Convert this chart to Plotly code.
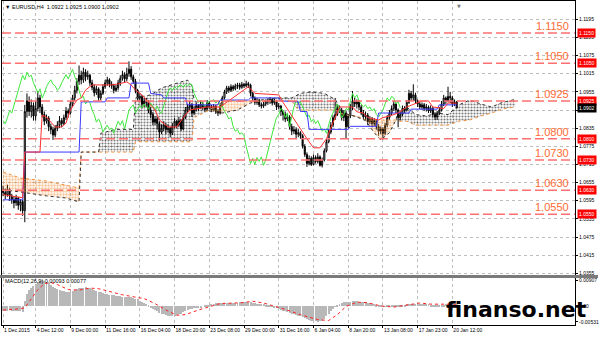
import plotly.graph_objects as go

# ---------------- data ----------------
opens = [1.0630, 1.0622, 1.0615, 1.0632, 1.0610, 1.0598, 1.0588, 1.0604, 1.0580, 1.0592,
         1.0562,
         1.0890, 1.0925, 1.0890, 1.0910, 1.0875, 1.0900, 1.0935,
         1.0905, 1.0880, 1.0858, 1.0868, 1.0840, 1.0830, 1.0812,
         1.0835, 1.0845, 1.0860, 1.0850, 1.0870, 1.0892, 1.0885,
         1.0915, 1.0935, 1.0960, 1.0990, 1.1010, 1.0995, 1.1020,
         1.1005, 1.1010, 1.0985, 1.0970, 1.0952, 1.0965, 1.0935,
         1.0950, 1.0972, 1.0985, 1.0995, 1.0980, 1.0975, 1.0960,
         1.0968, 1.0985, 1.1000, 1.1012, 1.0998, 1.1015, 1.1030,
         1.1005, 1.0990, 1.0960, 1.0935, 1.0940, 1.0915, 1.0925,
         1.0920, 1.0895, 1.0880, 1.0855, 1.0865, 1.0850, 1.0822,
         1.0835, 1.0845, 1.0830, 1.0835, 1.0818, 1.0840, 1.0858,
         1.0845, 1.0860, 1.0832, 1.0870, 1.0895, 1.0905, 1.0912,
         1.0885, 1.0898, 1.0910, 1.0902, 1.0915, 1.0905, 1.0898,
         1.0918, 1.0905, 1.0895, 1.0908, 1.0890, 1.0885, 1.0910,
         1.0935, 1.0955, 1.0968, 1.0960, 1.0972, 1.0965, 1.0975,
         1.0978, 1.0970, 1.0980, 1.0975, 1.0982, 1.0978, 1.0950,
         1.0935, 1.0920, 1.0928, 1.0912, 1.0908, 1.0915, 1.0925,
         1.0922, 1.0930, 1.0918, 1.0925, 1.0905, 1.0908, 1.0890,
         1.0880, 1.0865, 1.0872, 1.0840, 1.0825, 1.0830, 1.0815,
         1.0820, 1.0810, 1.0775, 1.0748, 1.0718, 1.0735, 1.0715,
         1.0738, 1.0725, 1.0740, 1.0712, 1.0730, 1.0760, 1.0790,
         1.0822, 1.0845, 1.0870, 1.0880, 1.0900, 1.0895, 1.0870,
         1.0885, 1.0840, 1.0875, 1.0905, 1.0925, 1.0915, 1.0922,
         1.0905, 1.0885, 1.0872, 1.0878, 1.0856, 1.0865, 1.0850,
         1.0860, 1.0840, 1.0825, 1.0832, 1.0818, 1.0845, 1.0870,
         1.0885, 1.0900, 1.0915, 1.0895, 1.0870, 1.0880, 1.0900,
         1.0895, 1.0920, 1.0950, 1.0935, 1.0945, 1.0925, 1.0915,
         1.0905, 1.0912, 1.0900, 1.0905, 1.0892, 1.0900, 1.0880,
         1.0872, 1.0885, 1.0895, 1.0915, 1.0935, 1.0925, 1.0940,
         1.0935, 1.0915, 1.0922]

highs = [1.0645, 1.0635, 1.0648, 1.0638, 1.0618, 1.0610, 1.0615, 1.0608, 1.0600, 1.0598,
         1.0912,
         1.0950, 1.0940, 1.0930, 1.0920, 1.0925, 1.0958, 1.0945,
         1.0915, 1.0890, 1.0880, 1.0875, 1.0850, 1.0840, 1.0845,
         1.0858, 1.0875, 1.0868, 1.0880, 1.0905, 1.0900, 1.0925,
         1.0945, 1.0975, 1.1000, 1.1042, 1.1025, 1.1035, 1.1030,
         1.1025, 1.1015, 1.0995, 1.0980, 1.0975, 1.0970, 1.0960,
         1.0980, 1.0995, 1.1005, 1.1000, 1.0990, 1.0982, 1.0978,
         1.0995, 1.1010, 1.1025, 1.1020, 1.1035, 1.1056, 1.1040,
         1.1012, 1.0998, 1.0965, 1.0950, 1.0945, 1.0935, 1.0935,
         1.0928, 1.0905, 1.0888, 1.0875, 1.0872, 1.0858, 1.0848,
         1.0858, 1.0852, 1.0848, 1.0840, 1.0852, 1.0868, 1.0862,
         1.0872, 1.0865, 1.0880, 1.0905, 1.0915, 1.0925, 1.0918,
         1.0908, 1.0920, 1.0915, 1.0925, 1.0922, 1.0912, 1.0928,
         1.0925, 1.0912, 1.0915, 1.0912, 1.0898, 1.0918, 1.0942,
         1.0962, 1.0975, 1.0975, 1.0980, 1.0978, 1.0982, 1.0985,
         1.0985, 1.0988, 1.0985, 1.0992, 1.0988, 1.0982, 1.0955,
         1.0940, 1.0935, 1.0932, 1.0920, 1.0922, 1.0930, 1.0932,
         1.0938, 1.0935, 1.0932, 1.0928, 1.0918, 1.0912, 1.0895,
         1.0890, 1.0885, 1.0878, 1.0850, 1.0842, 1.0838, 1.0832,
         1.0825, 1.0815, 1.0782, 1.0755, 1.0745, 1.0742, 1.0748,
         1.0745, 1.0752, 1.0745, 1.0738, 1.0768, 1.0798, 1.0830,
         1.0855, 1.0878, 1.0935, 1.0912, 1.0908, 1.0902, 1.0895,
         1.0892, 1.0882, 1.0915, 1.0958, 1.0935, 1.0930, 1.0928,
         1.0912, 1.0895, 1.0890, 1.0885, 1.0875, 1.0872, 1.0868,
         1.0865, 1.0848, 1.0840, 1.0838, 1.0852, 1.0878, 1.0895,
         1.0910, 1.0925, 1.0920, 1.0900, 1.0890, 1.0910, 1.0908,
         1.0928, 1.0962, 1.0958, 1.0980, 1.0952, 1.0930, 1.0922,
         1.0920, 1.0918, 1.0915, 1.0910, 1.0910, 1.0905, 1.0888,
         1.0892, 1.0905, 1.0925, 1.0945, 1.0940, 1.0972, 1.0955,
         1.0942, 1.0930, 1.0925]

lows = [1.0610, 1.0600, 1.0608, 1.0595, 1.0585, 1.0570, 1.0578, 1.0565, 1.0560, 1.0545,
        1.0524,
        1.0870, 1.0875, 1.0870, 1.0860, 1.0860, 1.0890, 1.0885,
        1.0870, 1.0845, 1.0850, 1.0825, 1.0815, 1.0796, 1.0805,
        1.0825, 1.0835, 1.0838, 1.0845, 1.0862, 1.0870, 1.0880,
        1.0905, 1.0925, 1.0950, 1.0978, 1.0980, 1.0985, 1.0990,
        1.0995, 1.0975, 1.0960, 1.0940, 1.0945, 1.0925, 1.0928,
        1.0945, 1.0965, 1.0975, 1.0970, 1.0965, 1.0950, 1.0955,
        1.0960, 1.0975, 1.0992, 1.0985, 1.0990, 1.1005, 1.0995,
        1.0982, 1.0950, 1.0925, 1.0920, 1.0900, 1.0905, 1.0905,
        1.0885, 1.0868, 1.0845, 1.0845, 1.0830, 1.0795, 1.0815,
        1.0825, 1.0815, 1.0820, 1.0805, 1.0812, 1.0835, 1.0835,
        1.0838, 1.0825, 1.0828, 1.0865, 1.0885, 1.0895, 1.0872,
        1.0878, 1.0890, 1.0892, 1.0898, 1.0895, 1.0888, 1.0892,
        1.0898, 1.0888, 1.0890, 1.0882, 1.0875, 1.0880, 1.0905,
        1.0930, 1.0948, 1.0952, 1.0955, 1.0958, 1.0960, 1.0965,
        1.0962, 1.0965, 1.0968, 1.0970, 1.0968, 1.0940, 1.0925,
        1.0912, 1.0912, 1.0905, 1.0900, 1.0902, 1.0908, 1.0912,
        1.0915, 1.0910, 1.0912, 1.0895, 1.0898, 1.0875, 1.0860,
        1.0855, 1.0858, 1.0830, 1.0812, 1.0815, 1.0800, 1.0805,
        1.0800, 1.0768, 1.0740, 1.0707, 1.0712, 1.0710, 1.0712,
        1.0718, 1.0718, 1.0708, 1.0705, 1.0725, 1.0755, 1.0785,
        1.0815, 1.0838, 1.0862, 1.0875, 1.0885, 1.0860, 1.0858,
        1.0800, 1.0835, 1.0868, 1.0895, 1.0905, 1.0900, 1.0895,
        1.0878, 1.0865, 1.0862, 1.0845, 1.0848, 1.0838, 1.0842,
        1.0830, 1.0810, 1.0815, 1.0797, 1.0812, 1.0838, 1.0862,
        1.0878, 1.0892, 1.0885, 1.0838, 1.0860, 1.0875, 1.0885,
        1.0890, 1.0915, 1.0925, 1.0925, 1.0915, 1.0905, 1.0898,
        1.0895, 1.0892, 1.0890, 1.0885, 1.0885, 1.0870, 1.0862,
        1.0862, 1.0878, 1.0890, 1.0908, 1.0915, 1.0920, 1.0918,
        1.0905, 1.0908, 1.0900]

closes = [1.0622, 1.0615, 1.0632, 1.0610, 1.0598, 1.0588, 1.0604, 1.0580, 1.0592, 1.0562,
          1.0890,
          1.0925, 1.0890, 1.0910, 1.0875, 1.0900, 1.0935, 1.0905,
          1.0880, 1.0858, 1.0868, 1.0840, 1.0830, 1.0812, 1.0835,
          1.0845, 1.0860, 1.0850, 1.0870, 1.0892, 1.0885, 1.0915,
          1.0935, 1.0960, 1.0990, 1.1010, 1.0995, 1.1020, 1.1005,
          1.1010, 1.0985, 1.0970, 1.0952, 1.0965, 1.0935, 1.0950,
          1.0972, 1.0985, 1.0995, 1.0980, 1.0975, 1.0960, 1.0968,
          1.0985, 1.1000, 1.1012, 1.0998, 1.1015, 1.1030, 1.1005,
          1.0990, 1.0960, 1.0935, 1.0940, 1.0915, 1.0925, 1.0920,
          1.0895, 1.0880, 1.0855, 1.0865, 1.0850, 1.0822, 1.0835,
          1.0845, 1.0830, 1.0835, 1.0818, 1.0840, 1.0858, 1.0845,
          1.0860, 1.0832, 1.0870, 1.0895, 1.0905, 1.0912, 1.0885,
          1.0898, 1.0910, 1.0902, 1.0915, 1.0905, 1.0898, 1.0918,
          1.0905, 1.0895, 1.0908, 1.0890, 1.0885, 1.0910, 1.0935,
          1.0955, 1.0968, 1.0960, 1.0972, 1.0965, 1.0975, 1.0978,
          1.0970, 1.0980, 1.0975, 1.0982, 1.0978, 1.0950, 1.0935,
          1.0920, 1.0928, 1.0912, 1.0908, 1.0915, 1.0925, 1.0922,
          1.0930, 1.0918, 1.0925, 1.0905, 1.0908, 1.0890, 1.0880,
          1.0865, 1.0872, 1.0840, 1.0825, 1.0830, 1.0815, 1.0820,
          1.0810, 1.0775, 1.0748, 1.0718, 1.0735, 1.0715, 1.0738,
          1.0725, 1.0740, 1.0712, 1.0730, 1.0760, 1.0790, 1.0822,
          1.0845, 1.0870, 1.0880, 1.0900, 1.0895, 1.0870, 1.0885,
          1.0840, 1.0875, 1.0905, 1.0925, 1.0915, 1.0922, 1.0905,
          1.0885, 1.0872, 1.0878, 1.0856, 1.0865, 1.0850, 1.0860,
          1.0840, 1.0825, 1.0832, 1.0818, 1.0845, 1.0870, 1.0885,
          1.0900, 1.0915, 1.0895, 1.0870, 1.0880, 1.0900, 1.0895,
          1.0920, 1.0950, 1.0935, 1.0945, 1.0925, 1.0915, 1.0905,
          1.0912, 1.0900, 1.0905, 1.0892, 1.0900, 1.0880, 1.0872,
          1.0885, 1.0895, 1.0915, 1.0935, 1.0925, 1.0940, 1.0935,
          1.0915, 1.0922, 1.0902]

# Ichimoku Tenkan-sen (red) and Kijun-sen (blue): vertices (bar index, price)
tenkan_x = [0, 9, 10, 17, 18, 20, 22, 24, 27, 29, 31, 34, 36, 38, 41, 50, 53, 57, 59, 61,
            64, 66, 68, 70, 72, 76, 80, 83, 86, 90, 94, 100, 104, 110, 113, 116, 127, 129,
            133, 137, 140, 143, 146, 149, 152, 155, 161, 163, 166, 168, 173, 175, 178, 182,
            186, 190, 193, 196, 198, 203, 205, 209]
tenkan_y = [1.0615, 1.0605, 1.0756, 1.0756, 1.0878, 1.0872, 1.0855, 1.0839, 1.0839, 1.0852,
            1.0895, 1.0928, 1.0935, 1.0961, 1.0978, 1.0978, 1.0981, 1.0988, 1.0978, 1.0961,
            1.0945, 1.0928, 1.0912, 1.0895, 1.0862, 1.0839, 1.0839, 1.0870, 1.0895, 1.0900,
            1.0905, 1.0905, 1.0925, 1.0958, 1.0972, 1.0950, 1.0945, 1.0920, 1.0875, 1.0830,
            1.0800, 1.0770, 1.0770, 1.0800, 1.0850, 1.0905, 1.0905, 1.0889, 1.0885, 1.0870,
            1.0862, 1.0870, 1.0875, 1.0885, 1.0905, 1.0915, 1.0925, 1.0925, 1.0905, 1.0900,
            1.0918, 1.0918]

kijun_x = [0, 9, 10, 35, 36, 47, 48, 58, 59, 67, 68, 73, 74, 84, 85, 99, 100, 113, 114, 127,
           128, 136, 137, 140, 141, 159, 160, 172, 173, 187, 188, 200, 201, 209]
kijun_y = [1.0598, 1.0598, 1.0756, 1.0756, 1.0922, 1.0922, 1.0935, 1.0935, 1.0984, 1.0984,
           1.0950, 1.0945, 1.0935, 1.0935, 1.0912, 1.0912, 1.0928, 1.0928, 1.0935, 1.0935,
           1.0925, 1.0922, 1.0890, 1.0890, 1.0831, 1.0831, 1.0841, 1.0841, 1.0885, 1.0885,
           1.0898, 1.0898, 1.0912, 1.0912]

# Senkou spans A and B (cloud, already shifted 26 bars forward)
cloud_x = [0, 8, 20, 29, 35, 36, 44, 45, 52, 60, 61, 68, 73, 77, 82, 85, 87, 88, 92, 95,
           101, 108, 114, 120, 127, 133, 136, 137, 142, 148, 153, 157, 163, 167, 171, 174,
           178, 181, 182, 186, 190, 195, 200, 205, 210, 215, 220, 225, 230, 236]
span_a = [1.0631, 1.0624, 1.0611, 1.0604, 1.0591, 1.0756, 1.0756, 1.0818, 1.0831, 1.0831,
          1.0935, 1.0945, 1.0968, 1.0978, 1.0988, 1.0994, 1.0975, 1.0930, 1.0900, 1.0892,
          1.0885, 1.0895, 1.0918, 1.0930, 1.0935, 1.0935, 1.0948, 1.0950, 1.0955, 1.0950,
          1.0930, 1.0885, 1.0872, 1.0860, 1.0820, 1.0796, 1.0820, 1.0862, 1.0890, 1.0905,
          1.0880, 1.0875, 1.0885, 1.0880, 1.0912, 1.0928, 1.0915, 1.0905, 1.0920, 1.0930]
span_b = [1.0690, 1.0670, 1.0660, 1.0647, 1.0637, 1.0756, 1.0756, 1.0756, 1.0756, 1.0756,
          1.0790, 1.0790, 1.0790, 1.0790, 1.0790, 1.0790, 1.0790, 1.0870, 1.0885, 1.0895,
          1.0925, 1.0925, 1.0925, 1.0925, 1.0925, 1.0925, 1.0895, 1.0895, 1.0895, 1.0895,
          1.0895, 1.0880, 1.0875, 1.0862, 1.0862, 1.0862, 1.0862, 1.0862, 1.0858, 1.0858,
          1.0845, 1.0845, 1.0845, 1.0845, 1.0858, 1.0862, 1.0875, 1.0885, 1.0898, 1.0905]
chikou_shift = 26

# MACD(12,26,9): main (histogram, one value per bar) and signal (vertices)
macd_main = [-0.0016, -0.0015, -0.0014, -0.0013, -0.0014, -0.0015, -0.0015, -0.0016, -0.0016, -0.0019,
             0.0018, 0.0042, 0.0056, 0.0065, 0.0071, 0.0077, 0.0083, 0.0088, 0.0091, 0.0089,
             0.0085, 0.0080, 0.0074, 0.0068, 0.0063, 0.0059, 0.0056, 0.0054, 0.0052, 0.0051,
             0.0050, 0.0051, 0.0053, 0.0056, 0.0059, 0.0062, 0.0064, 0.0065, 0.0066, 0.0065,
             0.0063, 0.0060, 0.0057, 0.0054, 0.0051, 0.0048, 0.0046, 0.0044, 0.0042, 0.0041,
             0.0039, 0.0038, 0.0037, 0.0036, 0.0035, 0.0034, 0.0034, 0.0033, 0.0033, 0.0032,
             0.0030, 0.0027, 0.0024, 0.0020, 0.0016, 0.0012, 0.0008, 0.0003, -0.0002, -0.0007,
             -0.0012, -0.0017, -0.0021, -0.0024, -0.0027, -0.0029, -0.0031, -0.0032, -0.0033, -0.0032,
             -0.0030, -0.0027, -0.0024, -0.0020, -0.0016, -0.0013, -0.0010, -0.0008, -0.0006, -0.0004,
             -0.0003, -0.0002, 0.0000, 0.0002, 0.0004, 0.0006, 0.0008, 0.0010, 0.0011, 0.0012,
             0.0012, 0.0013, 0.0013, 0.0013, 0.0012, 0.0012, 0.0012, 0.0013, 0.0013, 0.0014,
             0.0014, 0.0015, 0.0016, 0.0015, 0.0014, 0.0012, 0.0011, 0.0010, 0.0009, 0.0008,
             0.0007, 0.0006, 0.0005, 0.0003, 0.0001, -0.0002, -0.0005, -0.0008, -0.0011, -0.0014,
             -0.0017, -0.0020, -0.0022, -0.0024, -0.0026, -0.0028, -0.0031, -0.0034, -0.0037, -0.0040,
             -0.0043, -0.0046, -0.0048, -0.0050, -0.0051, -0.0052, -0.0051, -0.0048, -0.0042, -0.0034,
             -0.0025, -0.0016, -0.0008, -0.0001, 0.0005, 0.0009, 0.0012, 0.0014, 0.0015, 0.0016,
             0.0017, 0.0018, 0.0018, 0.0018, 0.0017, 0.0016, 0.0015, 0.0014, 0.0013, 0.0011,
             0.0009, 0.0007, 0.0005, 0.0003, 0.0002, 0.0001, 0.0001, 0.0002, 0.0003, 0.0004,
             0.0005, 0.0005, 0.0004, 0.0004, 0.0005, 0.0006, 0.0007, 0.0008, 0.0009, 0.0010,
             0.0010, 0.0010, 0.0009, 0.0009, 0.0008, 0.0008, 0.0007, 0.0006, 0.0005, 0.0004,
             0.0004, 0.0004, 0.0005, 0.0006, 0.0007, 0.0008, 0.0008, 0.0008, 0.0009, 0.0009]
signal_x = [0, 5, 10, 13, 16, 19, 22, 25, 30, 35, 40, 44, 50, 55, 61, 65, 70, 75, 80, 84, 90,
            95, 100, 110, 115, 120, 125, 130, 137, 145, 150, 154, 158, 163, 168, 174, 180, 186,
            192, 197, 203, 209]
signal_y = [-0.0012, -0.0010, -0.0005, 0.0025, 0.0058, 0.0078, 0.0082, 0.0075, 0.0058, 0.0056,
            0.0063, 0.0061, 0.0050, 0.0040, 0.0032, 0.0027, 0.0010, -0.0012, -0.0030, -0.0028,
            -0.0012, 0.0000, 0.0010, 0.0013, 0.0018, 0.0012, 0.0002, -0.0010, -0.0028, -0.0045,
            -0.0048, -0.0028, 0.0000, 0.0015, 0.0013, 0.0002, -0.0002, 0.0004, 0.0012, 0.0008,
            0.0008, 0.0008]

level_values = [1.1150, 1.1050, 1.0925, 1.0800, 1.0730, 1.0630, 1.0550]
level_labels = ["1.1150", "1.1050", "1.0925", "1.0800", "1.0730", "1.0630", "1.0550"]
price_ticks = [1.1195, 1.1135, 1.1075, 1.1015, 1.0955, 1.0895, 1.0835, 1.0775,
               1.0715, 1.0655, 1.0595, 1.0535, 1.0475, 1.0415, 1.0355]
current_price = 1.0902
macd_ticks = [0.00907, 0.0, -0.00531]
macd_tick_labels = ["0.00907", "0.00", "-0.00531"]
time_tick_bars = [0, 15, 31, 47, 63, 79, 95, 111, 127, 143, 159, 175, 191, 207]
time_tick_labels = ["1 Dec 2015", "4 Dec 12:00", "9 Dec 00:00", "11 Dec 16:00",
                    "16 Dec 04:00", "18 Dec 20:00", "23 Dec 08:00", "29 Dec 00:00",
                    "31 Dec 16:00", "6 Jan 04:00", "8 Jan 20:00", "13 Jan 08:00",
                    "17 Jan 23:00", "20 Jan 12:00"]
header_text = "\u25BC EURUSD,H4  1.0922 1.0925 1.0900 1.0902"
macd_text = "MACD(12,26,9) 0.00093 0.00077"
watermark = "finanso.net"

# ---------------- figure ----------------
FONT = "Liberation Sans"
bars = list(range(len(closes)))
fig = go.Figure()

# cloud hatch: black where span A is above, orange where span B is above
runs = []
for i in range(len(cloud_x) - 1):
    above = (span_a[i] + span_a[i + 1]) >= (span_b[i] + span_b[i + 1])
    if runs and runs[-1][0] == above:
        runs[-1][1].append(i + 1)
    else:
        runs.append([above, [i, i + 1]])
for above, idx in runs:
    xs = [cloud_x[j] for j in idx]
    up = [max(span_a[j], span_b[j]) for j in idx]
    lo = [min(span_a[j], span_b[j]) for j in idx]
    col = "#000000" if above else "#F0903A"
    fig.add_trace(go.Scatter(
        x=xs + xs[::-1], y=up + lo[::-1], mode="none", fill="toself",
        fillcolor="rgba(0,0,0,0)",
        fillpattern=dict(shape=".", fgcolor=col, bgcolor="rgba(0,0,0,0)", size=3,
                         solidity=0.4 if above else 0.5),
        hoverinfo="skip", showlegend=False, xaxis="x", yaxis="y"))

fig.add_trace(go.Scatter(x=cloud_x, y=span_b, mode="lines",
                         line=dict(color="#F0903A", width=1, dash="dot"),
                         showlegend=False, xaxis="x", yaxis="y"))
fig.add_trace(go.Scatter(x=cloud_x, y=span_a, mode="lines",
                         line=dict(color="#333333", width=1, dash="dot"),
                         showlegend=False, xaxis="x", yaxis="y"))

fig.add_trace(go.Candlestick(
    x=bars, open=opens, high=highs, low=lows, close=closes,
    increasing=dict(line=dict(color="#000000", width=1), fillcolor="#FFFFFF"),
    decreasing=dict(line=dict(color="#000000", width=1), fillcolor="#000000"),
    whiskerwidth=0, showlegend=False, xaxis="x", yaxis="y"))

fig.add_trace(go.Scatter(x=[b - chikou_shift for b in bars[chikou_shift:]],
                         y=closes[chikou_shift:], mode="lines",
                         line=dict(color="#3EE83E", width=1), showlegend=False,
                         xaxis="x", yaxis="y"))
fig.add_trace(go.Scatter(x=kijun_x, y=kijun_y, mode="lines",
                         line=dict(color="#3A3AFF", width=1), showlegend=False,
                         xaxis="x", yaxis="y"))
fig.add_trace(go.Scatter(x=tenkan_x, y=tenkan_y, mode="lines",
                         line=dict(color="#FF3030", width=1), showlegend=False,
                         xaxis="x", yaxis="y"))

# MACD panel
fig.add_trace(go.Bar(x=bars, y=macd_main, width=0.45,
                     marker=dict(color="#B8B8B8", line=dict(width=0)),
                     showlegend=False, xaxis="x2", yaxis="y2"))
fig.add_trace(go.Scatter(x=signal_x, y=signal_y, mode="lines",
                         line=dict(color="#FF2020", width=1, dash="dot"),
                         showlegend=False, xaxis="x2", yaxis="y2"))

# plot geometry (px): plot area x 2..575, y 1..325
PW, PH = 573.0, 324.0
def py(ypx):
    return (325.0 - ypx) / PH
def px(xpx):
    return (xpx - 2.0) / PW

shapes = []
annotations = []
for v, lab in zip(level_values, level_labels):
    shapes.append(dict(type="line", xref="paper", yref="y", x0=0, x1=1, y0=v, y1=v,
                       line=dict(color="#FF6F6F", width=1.5, dash="9px,4px"), layer="above"))
    annotations.append(dict(xref="paper", yref="y", x=px(571), y=v, xanchor="right",
                            yanchor="middle", yshift=7, text=lab, showarrow=False,
                            font=dict(family=FONT, size=11, color="#FF6A33")))
    annotations.append(dict(xref="paper", yref="y", x=1, y=v, xanchor="left", yanchor="middle",
                            xshift=2, text=lab, showarrow=False, bgcolor="#FF0000",
                            borderpad=1, font=dict(family=FONT, size=5, color="#FFFFFF")))
annotations.append(dict(xref="paper", yref="y", x=1, y=current_price, xanchor="left",
                        yanchor="middle", xshift=2, text=f"{current_price:.4f}",
                        showarrow=False, bgcolor="#000000", borderpad=1,
                        font=dict(family=FONT, size=5, color="#FFFFFF")))
annotations.append(dict(xref="paper", yref="paper", x=px(3), y=py(7), xanchor="left",
                        yanchor="middle", text=header_text, showarrow=False,
                        font=dict(family=FONT, size=5.5, color="#000000")))
annotations.append(dict(xref="paper", yref="paper", x=px(3), y=py(281), xanchor="left",
                        yanchor="middle", text=macd_text, showarrow=False,
                        font=dict(family=FONT, size=5.5, color="#000000")))
annotations.append(dict(xref="paper", yref="paper", x=px(459), y=py(1), xanchor="center",
                        yanchor="top", text="\u25BC", showarrow=False,
                        font=dict(family="DejaVu Sans", size=5, color="#808080")))
annotations.append(dict(xref="paper", yref="paper", x=px(444), y=py(309), xanchor="left",
                        yanchor="middle", text=watermark, showarrow=False,
                        font=dict(family="DejaVu Sans", size=22, color="#000000",
                                  weight="bold")))
# panel separator
shapes.append(dict(type="line", xref="paper", yref="paper", x0=px(0), x1=px(598),
                   y0=py(276.5), y1=py(276.5), line=dict(color="#7A7A7A", width=3)))

grid = dict(showgrid=True, gridcolor="#BEBEBE", griddash="dot", gridwidth=1)
fig.update_layout(
    width=600, height=338,
    margin=dict(l=2, r=25, t=1, b=13, autoexpand=False),
    paper_bgcolor="#FFFFFF", plot_bgcolor="#FFFFFF",
    showlegend=False, bargap=0,
    font=dict(family=FONT, size=5, color="#000000"),
    xaxis=dict(domain=[0, 1], anchor="y", range=[-0.5, 263.5], tickmode="array",
               tickvals=time_tick_bars, ticktext=time_tick_labels, showticklabels=False,
               ticks="", showline=True, linecolor="#000000", linewidth=1, mirror=True,
               zeroline=False, rangeslider=dict(visible=False), matches="x2",
               automargin=False, **grid),
    yaxis=dict(domain=[py(275), 1], anchor="x", side="right",
               range=[1.03494, 1.12555], tickmode="array", tickvals=price_ticks,
               ticktext=[f"{t:.4f}" for t in price_ticks], ticks="outside", ticklen=2,
               tickcolor="#000000", tickfont=dict(family=FONT, size=5, color="#000000"),
               showline=True, linecolor="#000000", linewidth=1, mirror=True,
               zeroline=False, automargin=False, **grid),
    xaxis2=dict(domain=[0, 1], anchor="y2", range=[-0.5, 263.5], tickmode="array",
                tickvals=time_tick_bars, ticktext=time_tick_labels, ticks="outside",
                ticklen=2, tickcolor="#000000", ticklabelposition="outside right",
                tickangle=0, tickfont=dict(family=FONT, size=5, color="#000000"),
                showline=True, linecolor="#000000", linewidth=1, mirror=True,
                zeroline=False, automargin=False, **grid),
    yaxis2=dict(domain=[0, py(278)], anchor="x2", side="right",
                range=[-0.00634, 0.00976], tickmode="array", tickvals=macd_ticks,
                ticktext=macd_tick_labels, ticks="outside", ticklen=2, tickcolor="#000000",
                tickfont=dict(family=FONT, size=5, color="#000000"),
                showline=True, linecolor="#000000", linewidth=1, mirror=True,
                showgrid=False, zeroline=False, automargin=False),
    shapes=shapes, annotations=annotations,
)

fig.write_html("out.html")
